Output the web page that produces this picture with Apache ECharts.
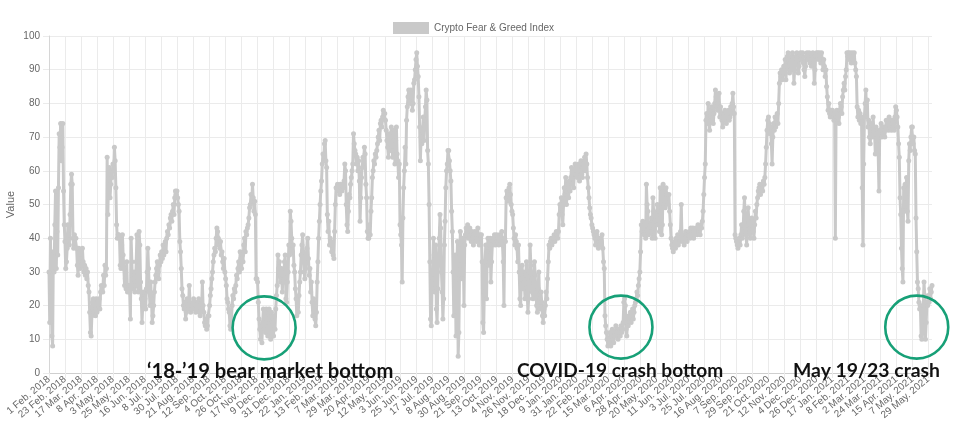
<!DOCTYPE html>
<html><head><meta charset="utf-8">
<script src="https://cdn.jsdelivr.net/npm/echarts/dist/echarts.min.js"></script>
<style>html,body{margin:0;padding:0;background:#fff}#c{width:960px;height:439px}</style>
</head><body><div id="c"></div>
<script>
const seriesName = 'Crypto Fear & Greed Index';
const yAxisName = 'Value';
const monthNames = ['Jan.','Feb.','Mar.','Apr.','May.','Jun.','Jul.','Aug.','Sep.','Oct.','Nov.','Dec.'];
const firstDate = [2018, 1, 1];               // 1 Feb 2018 (month is 0-based)
const missingDates = ['2018-04-14','2018-04-15','2018-04-16'];
const labelEvery = 22;

// daily index values, 1 Feb 2018 – 3 Oct 2018
const part1 = [30,15,40,24,11,8,36,30,44,54,31,42,35,55,71,67,74,63,67,74,54,44,
39,31,33,37,44,41,38,47,56,59,56,40,37,41,40,40,37,32,29,37,36,31,
34,32,37,33,30,32,29,31,28,30,26,24,18,12,11,17,21,22,18,20,17,22,
18,21,20,22,19,24,26,25,24,29,26,32,29,31,64,47,58,61,52,56,60,58,
62,60,67,63,55,44,40,41,41,40,32,31,38,41,35,31,26,28,25,33,24,26,
26,24,16,40,33,25,28,30,24,26,33,41,40,24,42,38,27,22,15,20,24,22,
22,19,25,30,37,31,24,20,27,22,15,17,20,24,27,29,31,33,30,28,32,35,
33,36,34,38,35,37,39,36,40,42,41,44,43,46,47,45,48,50,47,52,54,53,
54,52,50,48,39,36,31,25,23,20,19,21,16,18,22,20,19,26,21,18,20,19,
20,22,19,21,18,20,19,21,22,18,17,20,19,27,20,18,15,14,16,13,14,17,
17,20,23,25,28,30,33,35,37,36,40,43,42,40,38,37,39,35,36,33,31,34];
// 4 Oct 2018 – 2 Jun 2019
const part2 = [30,28,26,22,21,19,18,14,13,16,20,23,22,25,24,26,29,28,31,33,30,36,
34,31,35,33,38,40,36,42,41,43,44,46,49,50,53,51,56,52,48,51,47,28,
28,27,21,16,13,10,14,9,15,19,13,17,12,19,15,11,16,19,14,10,18,12,
15,11,17,13,19,23,26,35,31,33,29,27,31,24,29,27,33,35,22,21,27,30,
38,35,48,45,40,36,38,32,30,25,22,17,20,18,23,27,30,35,38,41,36,30,
28,31,35,37,40,34,29,31,24,27,21,17,22,19,16,14,18,27,33,40,45,50,
54,57,62,65,63,68,69,63,61,47,42,45,38,40,39,36,38,35,34,42,50,55,
55,56,54,55,53,56,55,54,56,55,57,62,60,50,44,42,48,53,52,56,58,60,
62,71,68,66,65,62,64,60,63,57,45,52,58,61,64,63,67,65,56,52,42,40,
40,44,41,48,52,58,60,63,62,65,64,66,68,70,72,69,74,75,73,76,78,77,
77,75,72,69,67,64,71,66,70,73,66,64,68,72,62,69,73,65,63,58,62,44];
// 3 Jun 2019 – 30 Jan 2020
const part3 = [41,38,27,46,55,60,67,62,75,79,82,84,83,80,84,82,78,80,86,87,90,93,
95,91,88,82,73,63,70,68,72,76,69,75,79,84,81,66,62,50,33,16,14,25,
28,40,35,24,38,19,15,25,34,40,47,43,30,24,16,22,38,45,55,60,62,66,
66,63,60,57,48,42,30,17,25,35,11,28,39,5,12,32,42,38,28,40,38,20,
38,41,43,42,44,40,42,43,41,39,42,40,38,41,42,40,39,41,43,40,38,41,
40,41,33,15,12,24,33,38,22,36,40,32,38,40,27,33,38,40,39,41,38,40,
41,39,40,38,41,40,39,42,38,33,20,40,39,52,54,53,51,55,56,53,50,48,
47,43,40,38,41,39,37,33,38,30,22,20,28,32,25,30,27,22,29,33,24,18,
22,26,38,32,28,24,22,27,33,29,24,20,18,25,30,22,19,24,21,17,15,19,
17,20,24,22,28,33,38,37,39,40,38,39,40,41,39,40,42,41,40,42,47,50,
49,52,47,44,50,55,53,58,50,54,56,52,57,54,58,61,56,59,55,60,62,59];
// 31 Jan 2020 – 28 Sep 2020
const part4 = [61,58,60,62,57,60,63,59,58,62,61,64,60,65,62,58,55,52,49,47,46,44,
43,42,41,40,38,41,42,40,37,39,40,38,39,41,37,33,31,17,14,12,10,8,
10,9,12,8,11,13,10,9,12,11,14,11,12,10,13,12,11,14,12,13,15,21,
22,20,13,11,15,14,17,16,18,15,17,19,16,18,20,21,22,24,23,26,28,30,
36,44,42,45,43,41,44,40,56,50,48,41,43,42,44,46,40,52,48,43,40,45,
47,50,44,48,42,55,48,41,44,56,50,53,49,55,53,52,50,53,48,44,40,38,
37,36,38,39,37,40,38,41,38,40,39,42,50,40,39,41,38,40,42,41,39,41,
41,42,40,43,41,42,43,40,42,41,43,42,41,44,42,43,41,44,43,45,48,53,
58,62,75,77,74,80,76,72,78,76,79,75,74,77,80,84,82,79,78,80,83,76,
79,77,75,73,77,75,78,76,74,77,76,78,75,76,79,77,80,83,79,77,41,40,
39,38,37,39,40,38,41,44,40,42,48,52,45,41,38,44,49,45,42,40,44,46];
// 29 Sep 2020 – 28 May 2021
const part5 = [45,42,40,44,48,46,50,52,54,55,56,53,55,56,54,57,56,58,62,67,72,75,
76,74,71,73,68,62,70,74,72,76,73,75,77,74,80,86,89,88,90,87,89,91,
90,93,87,91,94,95,93,89,92,90,94,95,93,86,90,92,94,95,93,89,91,94,
95,94,93,95,92,90,88,91,94,95,93,94,95,92,93,91,94,95,93,86,90,94,
95,94,95,93,95,94,92,95,93,90,93,91,88,90,85,82,78,80,77,76,78,77,
78,76,75,77,40,76,78,77,76,74,78,80,79,77,82,84,86,84,88,90,95,94,
95,93,95,94,92,95,93,94,95,92,90,88,79,76,78,75,77,74,76,55,38,62,
76,80,84,76,81,73,75,70,68,72,74,70,76,72,71,65,73,69,72,65,54,70,
72,74,70,73,71,73,70,72,75,73,74,72,76,73,74,72,75,74,73,72,76,79,
78,76,73,68,64,52,47,37,31,27,55,48,56,52,58,48,45,63,68,66,70,73,
73,68,70,66,65,46,36,27,25,21,19,20,11,10,12,20,27,23,10,15,21,20];
// 29 May 2021 onward
const part6 = [23,21,25,22,24,26];

const values = [].concat(part1, part2, part3, part4, part5, part6);

// y axis ticks
const yMin = 0, yMax = 100, yStep = 10;

// annotations
const noteTexts = ['\u201818-\u201919 bear market bottom', 'COVID-19 crash bottom', 'May 19/23 crash'];
const noteCircleIdx = [296, 787, 1194];
const noteCircleVal = [13.4, 13.6, 13.6];
const noteTextLeft = [147, 517, 793];
const noteTextWidth = [246, 206, 147];

// build date categories
const dates = [];
{
  const d = new Date(Date.UTC(firstDate[0], firstDate[1], firstDate[2]));
  while (dates.length < values.length) {
    const iso = d.toISOString().slice(0, 10);
    if (!missingDates.includes(iso)) {
      dates.push(d.getUTCDate() + ' ' + monthNames[d.getUTCMonth()] + ' ' + d.getUTCFullYear());
    }
    d.setUTCDate(d.getUTCDate() + 1);
  }
}

const lineColor = '#c9c9c9';
const gridColor = '#ebebeb';
const textColor = '#666';
const baseFont = 'Liberation Sans, Arial, Helvetica, sans-serif';

const chart = echarts.init(document.getElementById('c'), null, {renderer: 'canvas'});
chart.setOption({
  animation: false,
  backgroundColor: '#fff',
  textStyle: {fontFamily: baseFont},
  legend: {
    left: 388, top: 17, itemWidth: 36, itemHeight: 12, itemGap: 10,
    data: [{name: seriesName, icon: 'rect'}],
    itemStyle: {color: lineColor, borderWidth: 0},
    textStyle: {color: textColor, fontSize: 10, fontFamily: baseFont, padding: [0, 0, 0, 0]}
  },
  grid: {left: 49, right: 28, top: 36, bottom: 66, containLabel: false, outerBoundsMode: 'none'},
  xAxis: {
    type: 'category', data: dates, boundaryGap: false,
    axisLine: {show: true, lineStyle: {color: '#cfcfcf', width: 1}},
    axisTick: {show: true, interval: labelEvery - 1, length: 5, lineStyle: {color: gridColor}},
    axisLabel: {interval: labelEvery - 1, rotate: 40, color: textColor, fontSize: 10, margin: 5, fontFamily: baseFont},
    splitLine: {show: true, interval: labelEvery - 1, lineStyle: {color: gridColor, width: 1}}
  },
  yAxis: {
    type: 'value', min: yMin, max: yMax, interval: yStep,
    name: yAxisName, nameLocation: 'middle', nameGap: 33, nameMoveOverlap: false,
    nameTextStyle: {color: textColor, fontSize: 11, fontFamily: baseFont},
    axisLine: {show: true, lineStyle: {color: '#d6d6d6'}},
    axisTick: {show: true, length: 6, lineStyle: {color: gridColor}},
    axisLabel: {color: textColor, fontSize: 10, margin: 9, fontFamily: baseFont},
    splitLine: {show: true, lineStyle: {color: gridColor, width: 1}}
  },
  series: [{
    name: seriesName, type: 'line', data: values,
    symbol: 'circle', symbolSize: 5, showAllSymbol: true,
    lineStyle: {color: lineColor, width: 3},
    itemStyle: {color: lineColor, borderWidth: 0},
    emphasis: {disabled: true}
  }]
});

// annotations
function fitSize(text, targetW, family) {
  const ctx = document.createElement('canvas').getContext('2d');
  ctx.font = 'bold 100px ' + family;
  return Math.round(100 * targetW / ctx.measureText(text).width * 10) / 10;
}
const noteFamily = 'Lato';
const graphics = [];
noteTexts.forEach((t, i) => {
  const p = chart.convertToPixel({xAxisIndex: 0, yAxisIndex: 0}, [noteCircleIdx[i], noteCircleVal[i]]);
  graphics.push({type: 'circle', z: 100, shape: {cx: p[0], cy: p[1], r: 31.5},
    style: {fill: 'none', stroke: '#17a077', lineWidth: 2.6}});
  const fs = fitSize(t, noteTextWidth[i], noteFamily);
  graphics.push({type: 'text', z: 101, x: noteTextLeft[i], y: 371,
    style: {text: t, fill: '#111', font: 'bold ' + fs + 'px ' + noteFamily, align: 'left', verticalAlign: 'middle'}});
});
chart.setOption({graphic: graphics});
</script>
</body></html>
